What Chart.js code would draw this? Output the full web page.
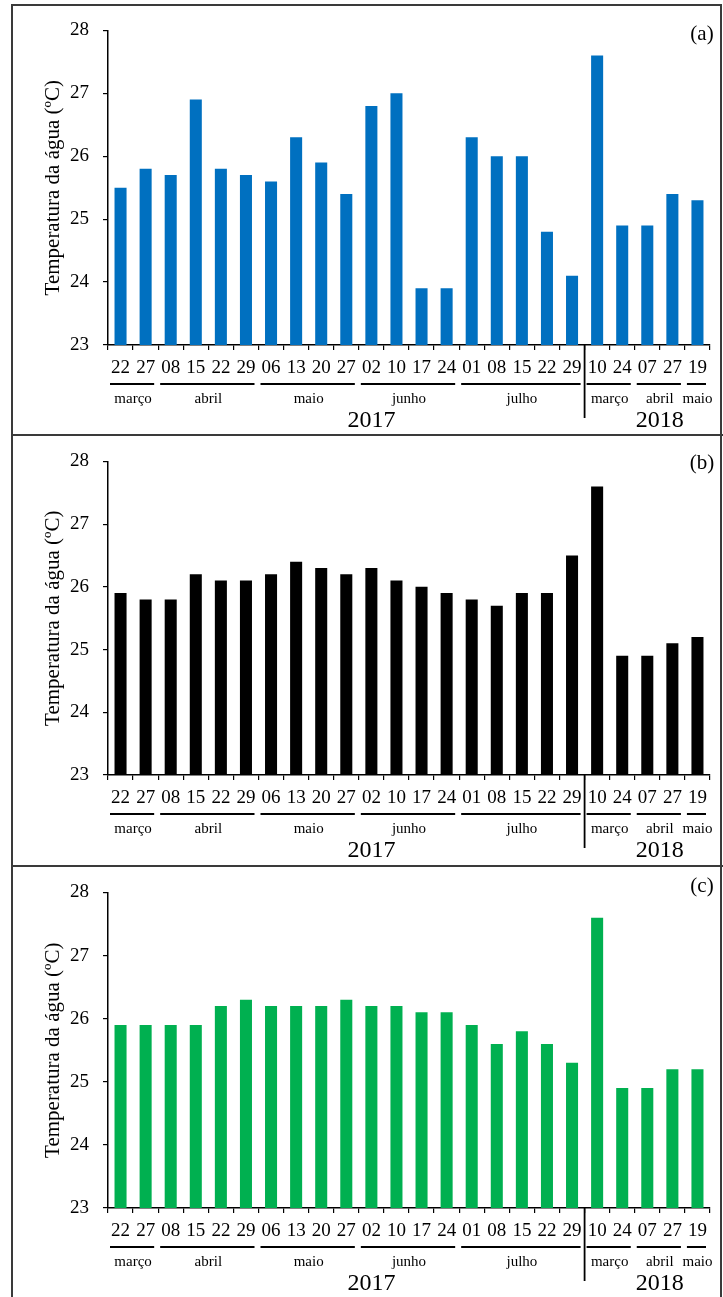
<!DOCTYPE html>
<html>
<head>
<meta charset="utf-8">
<script src="https://cdn.jsdelivr.net/npm/chart.js@4.4.1/dist/chart.umd.min.js"></script>
<style>
  html, body { margin: 0; padding: 0; background: #fff; }
  body { width: 723px; height: 1297px; position: relative; overflow: hidden; }
  canvas { position: absolute; left: 0; }
  .frame { position: absolute; left: 11px; top: 4px; width: 711px; height: 1310px;
           border: 2px solid #3a3a3a; border-bottom: none; box-sizing: border-box; }
  .sep { position: absolute; left: 11px; width: 712px; height: 2px; background: #3a3a3a; }
</style>
</head>
<body>
<div class="frame"></div>
<div class="sep" style="top:434px"></div>
<div class="sep" style="top:865px"></div>
<canvas id="ca" width="723" height="429" style="top:5px"></canvas>
<canvas id="cb" width="723" height="429" style="top:436px"></canvas>
<canvas id="cc" width="723" height="430" style="top:867px"></canvas>
<script>
// Sampling days (x categories)
const days = ['22','27','08','15','22','29','06','13','20','27','02','10','17','24','01','08','15','22','29','10','24','07','27','19'];
// Month groups below the days
const months = ['março','abril','maio','junho','julho','março','abril','maio'];
const monthCounts = [2, 4, 4, 4, 5, 2, 2, 1];
// Year groups
const years = ['2017', '2018'];
const yearCounts = [19, 5];
// Y axis ticks
const yTicks = [23, 24, 25, 26, 27, 28];

// Water temperature (°C) for each station
const tempA = [25.5, 25.8, 25.7, 26.9, 25.8, 25.7, 25.6, 26.3, 25.9, 25.4, 26.8, 27.0, 23.9, 23.9, 26.3, 26.0, 26.0, 24.8, 24.1, 27.6, 24.9, 24.9, 25.4, 25.3];
const tempB = [25.9, 25.8, 25.8, 26.2, 26.1, 26.1, 26.2, 26.4, 26.3, 26.2, 26.3, 26.1, 26.0, 25.9, 25.8, 25.7, 25.9, 25.9, 26.5, 27.6, 24.9, 24.9, 25.1, 25.2];
const tempC = [25.9, 25.9, 25.9, 25.9, 26.2, 26.3, 26.2, 26.2, 26.2, 26.3, 26.2, 26.2, 26.1, 26.1, 25.9, 25.6, 25.8, 25.6, 25.3, 27.6, 24.9, 24.9, 25.2, 25.2];

const SERIF = '"Liberation Serif", "Times New Roman", serif';
const PLOT_H = 317;

// Draws month underlines, month names, year names, year divider and panel letter
const groupLabels = {
  id: 'groupLabels',
  afterDraw(chart, args, opts) {
    const ctx = chart.ctx;
    const xs = chart.scales.x;
    const base = chart.chartArea.bottom;
    ctx.save();
    ctx.fillStyle = '#000';
    ctx.strokeStyle = '#000';
    ctx.textAlign = 'center';
    ctx.textBaseline = 'middle';

    // month underlines and names
    let start = 0;
    ctx.font = '15px ' + SERIF;
    ctx.lineWidth = 2;
    months.forEach((m, i) => {
      const n = monthCounts[i];
      const x0 = xs.getPixelForValue(start - 0.5);
      const x1 = xs.getPixelForValue(start + n - 0.5);
      ctx.beginPath();
      ctx.moveTo(x0 + 2, base + 39);
      ctx.lineTo(x1 - 4, base + 39);
      ctx.stroke();
      ctx.fillText(m, (x0 + x1) / 2, base + 54);
      start += n;
    });

    // divider between years
    const xd = xs.getPixelForValue(yearCounts[0] - 0.5);
    ctx.lineWidth = 1.8;
    ctx.beginPath();
    ctx.moveTo(xd, base);
    ctx.lineTo(xd, base + 73);
    ctx.stroke();

    // year names
    ctx.font = '24px ' + SERIF;
    const yearPos = [10.0, 21.5];
    years.forEach((y, i) => {
      ctx.fillText(y, xs.getPixelForValue(yearPos[i]), base + 76);
    });

    // panel letter
    ctx.font = '21px ' + SERIF;
    ctx.fillText(opts.letter, 702, chart.chartArea.top + opts.letterDy);
    ctx.restore();
  }
};

function makeChart(id, data, color, letter, padTop, letterDy) {
  const canvas = document.getElementById(id);
  const H = canvas.height;
  return new Chart(canvas, {
    type: 'bar',
    data: {
      labels: days,
      datasets: [{ data: data, backgroundColor: color, borderWidth: 0,
                   barPercentage: 0.48, categoryPercentage: 1.0 }]
    },
    options: {
      responsive: false,
      animation: false,
      devicePixelRatio: 1,
      layout: { padding: { left: 0, right: 13, top: padTop, bottom: 0 } },
      plugins: {
        legend: { display: false },
        tooltip: { enabled: false },
        groupLabels: { letter: letter, letterDy: letterDy }
      },
      scales: {
        x: {
          offset: true,
          grid: { display: true, drawOnChartArea: false, offset: true, tickLength: 5, color: '#000', lineWidth: 1.2 },
          border: { display: true, color: '#000', width: 1.5 },
          ticks: { color: '#000', font: { family: SERIF, size: 19 }, padding: 7,
                   autoSkip: false, maxRotation: 0, minRotation: 0 },
          afterFit(scale) { scale.height = H - padTop - PLOT_H; }
        },
        y: {
          min: 23, max: 28,
          afterBuildTicks(scale) { scale.ticks = yTicks.map(v => ({ value: v })); },
          grid: { display: true, drawOnChartArea: false, tickLength: 5, color: '#000', lineWidth: 1.2 },
          border: { display: true, color: '#000', width: 1.5 },
          ticks: { color: '#000', font: { family: SERIF, size: 19 }, padding: 14 },
          title: { display: true, text: 'Temperatura da água (ºC)', color: '#000',
                   font: { family: SERIF, size: 21 }, padding: { top: 41, bottom: 0 } },
          afterFit(scale) { scale.width = 108; }
        }
      }
    },
    plugins: [groupLabels]
  });
}

makeChart('ca', tempA, '#0070C0', '(a)', 23, 4);
makeChart('cb', tempB, '#000000', '(b)', 22, 2);
makeChart('cc', tempC, '#00B050', '(c)', 24, -6);
</script>
</body>
</html>
